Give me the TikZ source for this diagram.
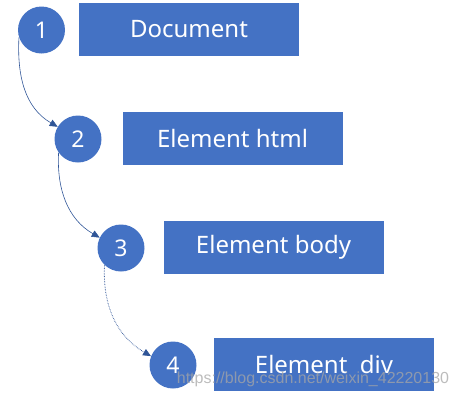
\documentclass[tikz,border=0pt]{standalone}
\usepackage{fontspec}
\setmainfont{Noto Sans}
\newfontfamily\wmfont{Liberation Sans}
\usetikzlibrary{arrows.meta}
\definecolor{officeblue}{HTML}{4472C4}
\definecolor{linkblue}{HTML}{2F5597}
\begin{document}
\begin{tikzpicture}[x=1pt,y=-1pt,
 num/.style={circle,fill=officeblue,text=white,minimum size=47pt,inner sep=0pt,font=\fontsize{23}{26}\selectfont},
 lbl/.style={fill=officeblue,text=white,minimum width=220pt,minimum height=53pt,inner sep=0pt,font=\fontsize{24}{28}\selectfont},
 link/.style={draw=linkblue,line width=.6pt,-{Triangle[length=8pt,width=7pt]}}]
\useasboundingbox (0,0) rectangle (459,400);
\foreach \i/\cx/\cy/\bx/\by/\t in {1/41.5/30/189/29.5/Document,2/78/139/232.5/138.5/Element html,3/121/248/273.5/247.5/Element body,4/173/365/324/364.5/Element~ div}{
\node[num] (c\i) at (\cx,\cy){\i};\node[lbl] (b\i) at (\bx,\by){\t};}
\draw[link] (c1.198) to[out=-93,in=150] (c2.149);
\draw[link] (c2.215) to[out=-93,in=150] (c3.154);
\draw[link,densely dotted,line width=.8pt] (c3.226) to[out=-93,in=150] (c4.158);
% watermark
\node[text=white!65!black,text opacity=.75,font=\wmfont\fontsize{16}{18}\selectfont,inner sep=0pt] (wm) at (313,379){https://blog.csdn.net/weixin\_42220130};
\end{tikzpicture}
\end{document}
